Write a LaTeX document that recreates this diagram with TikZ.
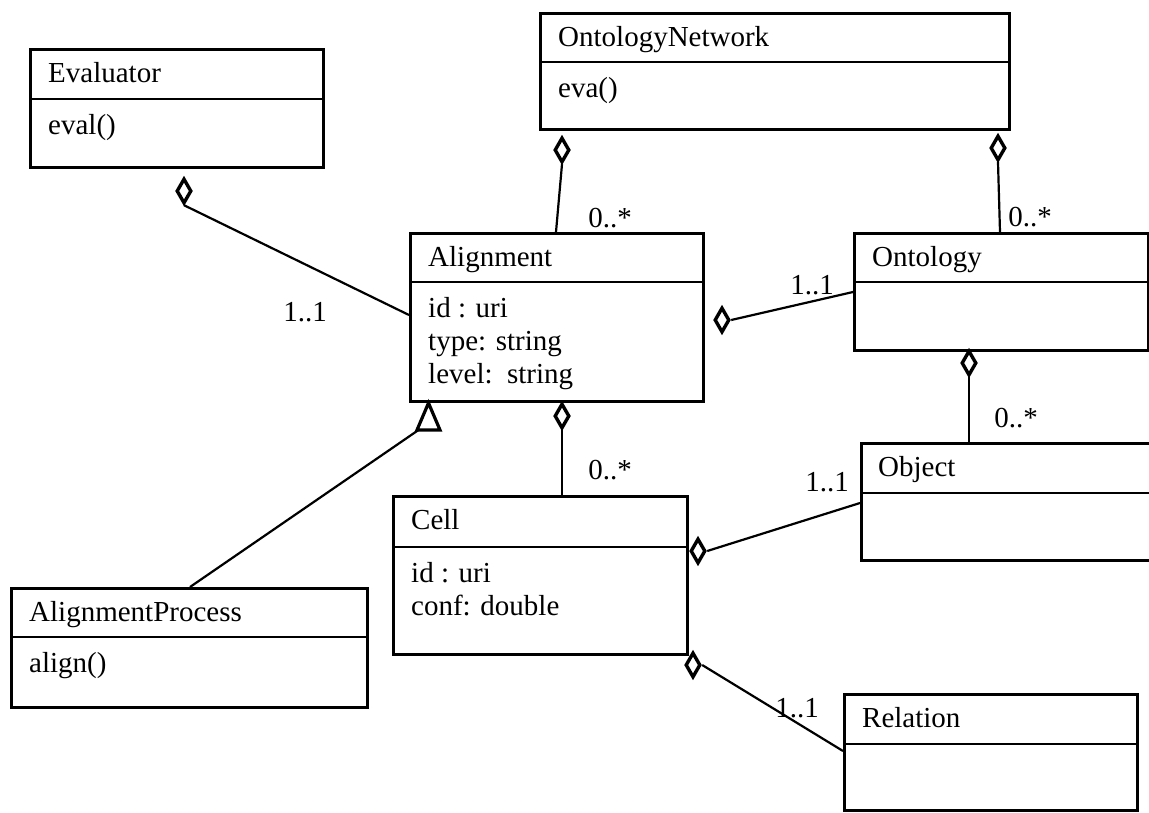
\documentclass[tikz,border=0pt]{standalone}
\usepackage{fontspec}
\setmainfont{Liberation Serif}
\usetikzlibrary{shapes.geometric,calc}
\begin{document}
\begin{tikzpicture}[x=1pt,y=-1pt,
  classbox/.style={draw, line width=2.7pt, rectangle, inner sep=0pt, anchor=north west},
  divider/.style={line width=2.4pt},
  txt/.style={anchor=base west, inner sep=0pt, font=\fontsize{29}{33}\selectfont},
  mult/.style={inner sep=0pt, font=\fontsize{29}{33}\selectfont},
  agg/.style={diamond, draw, line width=3.4pt, fill=white, inner sep=0pt,
              minimum width=15pt, minimum height=25pt},
  link/.style={line width=2.2pt},
  genhead/.style={line width=3.2pt, fill=white, line join=miter}
]
\useasboundingbox (0,0) rectangle (1149,812);
\clip (0,0) rectangle (1149,812);

% ---------- classes ----------
% Evaluator
\node[classbox, minimum width=293pt, minimum height=118pt] (eval) at (29,48) {};
\draw[divider] ($(eval.north west)+(0,51)$) -- ($(eval.north east)+(0,51)$);
\node[txt] (evalT) at ($(eval.north west)+(19,34)$) {Evaluator};
\node[txt] (evalA) at ($(eval.north west)+(19,86)$) {eval()};

% OntologyNetwork
\node[classbox, minimum width=469pt, minimum height=116pt] (onet) at (539,12) {};
\draw[divider] ($(onet.north west)+(0,50)$) -- ($(onet.north east)+(0,50)$);
\node[txt] (onetT) at ($(onet.north west)+(19,34)$) {OntologyNetwork};
\node[txt] (onetA) at ($(onet.north west)+(19,85)$) {eva()};

% Alignment
\node[classbox, minimum width=293pt, minimum height=168pt] (align) at (409,232) {};
\draw[divider] ($(align.north west)+(0,50)$) -- ($(align.north east)+(0,50)$);
\node[txt] (alignT) at ($(align.north west)+(19,34)$) {Alignment};
\node[txt] (alignA) at ($(align.north west)+(19,85)$) {id : uri};
\node[txt] (alignB) at ($(align.north west)+(19,118)$) {type: string};
\node[txt] (alignC) at ($(align.north west)+(19,151)$) {level:\ \ string};

% Ontology
\node[classbox, minimum width=294pt, minimum height=117pt] (onto) at (853,232) {};
\draw[divider] ($(onto.north west)+(0,50)$) -- ($(onto.north east)+(0,50)$);
\node[txt] (ontoT) at ($(onto.north west)+(19,34)$) {Ontology};

% Object (runs past the right border)
\node[classbox, minimum width=320pt, minimum height=117pt] (obj) at (860,442) {};
\draw[divider] ($(obj.north west)+(0,51)$) -- ($(obj.north east)+(0,51)$);
\node[txt] (objT) at ($(obj.north west)+(18,34)$) {Object};

% Cell
\node[classbox, minimum width=294pt, minimum height=158pt] (cell) at (392,495) {};
\draw[divider] ($(cell.north west)+(0,52)$) -- ($(cell.north east)+(0,52)$);
\node[txt] (cellT) at ($(cell.north west)+(19,34)$) {Cell};
\node[txt] (cellA) at ($(cell.north west)+(19,87)$) {id : uri};
\node[txt] (cellB) at ($(cell.north west)+(19,120)$) {conf: double};

% AlignmentProcess
\node[classbox, minimum width=356pt, minimum height=119pt] (ap) at (10,587) {};
\draw[divider] ($(ap.north west)+(0,50)$) -- ($(ap.north east)+(0,50)$);
\node[txt] (apT) at ($(ap.north west)+(19,34)$) {AlignmentProcess};
\node[txt] (apA) at ($(ap.north west)+(19,85)$) {align()};

% Relation
\node[classbox, minimum width=293pt, minimum height=116pt] (rel) at (843,693) {};
\draw[divider] ($(rel.north west)+(0,51)$) -- ($(rel.north east)+(0,51)$);
\node[txt] (relT) at ($(rel.north west)+(19,34)$) {Relation};

% ---------- aggregation diamonds ----------
\node[agg] (dEval)   at (184,191) {};
\node[agg] (dOnetL)  at (562,150) {};
\node[agg] (dOnetR)  at (998,148) {};
\node[agg] (dAlignR) at (722,320) {};
\node[agg] (dOnto)   at (969,363) {};
\node[agg] (dAlignB) at (562,416) {};
\node[agg] (dCellR)  at (698,551) {};
\node[agg] (dCellB)  at (693,665) {};

% ---------- associations ----------
\draw[link] (dEval.south)   -- ($(align.north west)+(0,83)$);
\draw[link] (dOnetL.south)  -- ($(align.north west)+(147,0)$);
\draw[link] (dOnetR.south)  -- ($(onto.north west)+(147,0)$);
\draw[link] (dAlignR.east)  -- ($(onto.north west)+(0,60)$);
\draw[link] (dOnto.south)   -- ($(obj.north west)+(109,0)$);
\draw[link] (dAlignB.south) -- ($(cell.north west)+(170,0)$);
\draw[link] (dCellR.east)   -- ($(obj.north west)+(0,61)$);
\draw[link] (dCellB.east)   -- ($(rel.north west)+(0,58)$);

% ---------- generalization ----------
\coordinate (gen) at (428.5,430);
\draw[link] ($(ap.north west)+(180,0)$) -- ($(gen)+(-10,0)$);
\draw[genhead] ($(gen)+(-11.5,0)$) -- ($(gen)+(0,-27)$) -- ($(gen)+(11.5,0)$) -- cycle;

% ---------- multiplicities ----------
\node[mult] (m1) at (305,312)  {1..1};
\node[mult] (m2) at (610,218)  {0..*};
\node[mult] (m3) at (1030,217) {0..*};
\node[mult] (m4) at (812,285)  {1..1};
\node[mult] (m5) at (1016,418) {0..*};
\node[mult] (m6) at (827,482)  {1..1};
\node[mult] (m7) at (610,470)  {0..*};
\node[mult] (m8) at (797,708)  {1..1};
\end{tikzpicture}
\end{document}
